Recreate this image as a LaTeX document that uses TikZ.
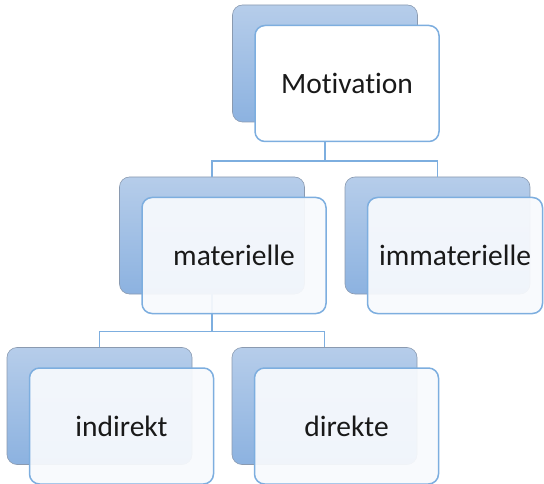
\documentclass[tikz,border=0pt]{standalone}
\usepackage{fontspec}
\setmainfont{Carlito}[Ligatures=NoCommon]
\usepackage{tikz}
\usetikzlibrary{positioning, calc}

\definecolor{backtop}{HTML}{B6CDEA}
\definecolor{backbot}{HTML}{8CB2E0}
\definecolor{backedge}{HTML}{8A9AB0}
\definecolor{frontedge}{HTML}{7DAEDF}
\definecolor{frontfill}{HTML}{F8FAFD}

\begin{document}
\begin{tikzpicture}[
	x=1pt, y=-1pt,
	back/.style = {rectangle, draw=backedge, line width=0.6pt, rounded corners=10pt, minimum width=185pt, minimum height=117pt, top color=backtop, bottom color=backbot},
	front/.style = {rectangle, draw=frontedge, line width=1.5pt, rounded corners=10pt, minimum width=184pt, minimum height=116pt, fill=frontfill, fill opacity=0.93, text opacity=1, text=black!90, font=\fontsize{29.5}{34}\selectfont, xshift=22pt, yshift=-20pt},
	line/.style = {draw=frontedge, line width=1.6pt}
	]
	
	\useasboundingbox (0,0) rectangle (544,484);
	
	% Back boxes
	\node [back] (mot) at (325,63.5) {};
	\node [back] (mat) at (212,235.5) {};
	\node [back] (imm) at (437.5,235.5) {};
	\node [back] (ind) at (99.5,406) {};
	\node [back] (dir) at (324.5,406) {};
	
	% Lines
	\path [line] (mot.south) -- ++(0,39) -| (mat.north);
	\path [line] (mot.south) -- ++(0,39) -| (imm.north);
	\path [line] (mat.south) -- ++(0,37) -| (ind.north);
	\path [line] (mat.south) -- ++(0,37) -| (dir.north);
	
	% Front boxes
	\node [front, fill=white, fill opacity=1] at (mot) (motf) {Motivation};
	\node [front] at (mat) (matf) {materielle};
	\node [front, minimum width=175pt, xshift=-4.5pt] at (imm) (immf) {immaterielle};
	\node [front] at (ind) (indf) {indirekt};
	\node [front] at (dir) (dirf) {direkte};
\end{tikzpicture}
\end{document}
